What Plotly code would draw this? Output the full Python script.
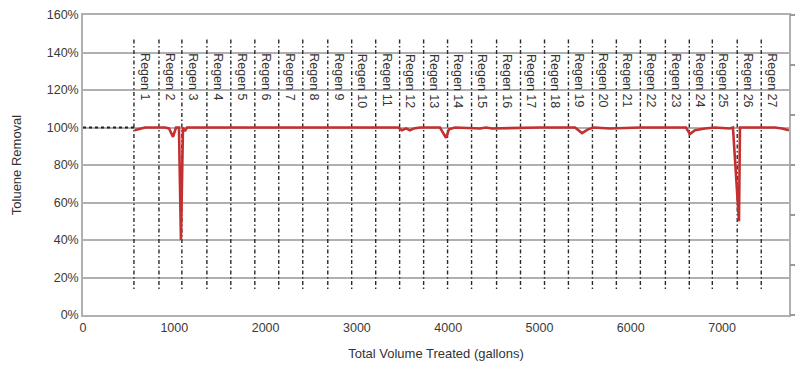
import plotly.graph_objects as go

# ---- data ----
regen_labels = [f"Regen {i}" for i in range(1, 28)]
regen_volume = [558, 832, 1083, 1357, 1619, 1882, 2144, 2407, 2681, 2943, 3206,
                3468, 3731, 3993, 4256, 4530, 4792, 5055, 5317, 5580, 5842, 6105,
                6379, 6641, 6893, 7166, 7429]

baseline_volume = [0, 565]
baseline_removal = [100, 100]

volume = [565, 679, 898, 942, 986, 1019, 1051, 1073, 1095, 1117, 1139,
          2000, 3000, 3450, 3494, 3538, 3581, 3625, 3691,
          3910, 3976, 4009, 4074, 4348, 4414, 4480, 5000,
          5389, 5466, 5531, 5597, 5772, 6101,
          6605, 6648, 6703, 6813, 6922,
          7086, 7119, 7185, 7196, 7580, 7656, 7733]
removal = [98.5, 100, 100, 99.5, 95, 100, 100, 40, 100, 98, 100,
           100, 100, 100, 98.5, 99.5, 98.5, 99.5, 100,
           100, 94.5, 99, 100, 99.5, 100, 99.5, 100,
           100, 97, 99, 100, 99.5, 100,
           100, 96.5, 98.5, 99.5, 100,
           99.5, 100, 50, 100, 100, 99.5, 98.5]

x_ticks = [0, 1000, 2000, 3000, 4000, 5000, 6000, 7000]
y_ticks = [0, 20, 40, 60, 80, 100, 120, 140, 160]
y_tick_text = [f"{v}%" for v in y_ticks]

LINE_TOP, LINE_BOTTOM, LABEL_TOP = 147, 13, 140.5

FONT = "Liberation Sans, Arial, sans-serif"
GRID = "#b0b0b0"

fig = go.Figure()

# regen dash-dot lines
lx, ly = [], []
for r in regen_volume:
    lx += [r, r, None]
    ly += [LINE_TOP, LINE_BOTTOM, None]
fig.add_trace(go.Scatter(x=lx, y=ly, mode="lines",
                         line=dict(color="#2a2a2a", width=1.4,
                                   dash="4px,2.5px,1.5px,2.5px"),
                         hoverinfo="skip", showlegend=False))

# baseline dotted
fig.add_trace(go.Scatter(x=baseline_volume, y=baseline_removal, mode="lines",
                         line=dict(color="#222222", width=2, dash="dot"),
                         showlegend=False))

# removal series
fig.add_trace(go.Scatter(x=volume, y=removal, mode="lines",
                         line=dict(color="#c4302f", width=2.6),
                         showlegend=False))

# invisible trace to keep right axis drawn
fig.add_trace(go.Scatter(x=[None], y=[None], yaxis="y2", mode="lines",
                         showlegend=False, hoverinfo="skip"))

for lab, r in zip(regen_labels, regen_volume):
    fig.add_annotation(x=r, y=LABEL_TOP, text=lab, textangle=90, showarrow=False,
                       xanchor="left", yanchor="top", xshift=2,
                       font=dict(family=FONT, size=12.5, color="#333333"))

fig.update_layout(
    width=800, height=372,
    margin=dict(l=83, r=11, t=15, b=57),
    plot_bgcolor="white", paper_bgcolor="white",
    font=dict(family=FONT, size=12.5, color="#3a3a3a"),
    xaxis=dict(range=[0, 7733], tickvals=x_ticks, showgrid=False, zeroline=False,
               showline=True, linecolor=GRID, linewidth=1.5, mirror=True,
               ticks="", tickfont=dict(size=12.5, color="#3a3a3a"), automargin=False,
               title=dict(text="Total Volume Treated (gallons)", standoff=15,
                          font=dict(size=13, color="#333333"))),
    yaxis=dict(range=[0, 160], tickvals=y_ticks, ticktext=y_tick_text,
               showgrid=True, gridcolor=GRID, gridwidth=1.5, zeroline=False,
               showline=True, linecolor=GRID, linewidth=1.5, mirror=True,
               ticks="", tickfont=dict(size=12.5, color="#3a3a3a"), automargin=False,
               title=dict(text="Toluene Removal", standoff=22,
                          font=dict(size=13, color="#333333"))),
    yaxis2=dict(overlaying="y", side="right", range=[0, 6], dtick=1,
                ticks="outside", ticklen=5, tickcolor="#999999", tickwidth=1.5,
                showticklabels=False, showgrid=False, zeroline=False,
                showline=False, automargin=False),
)

fig.write_html("out.html", config={"displayModeBar": False},
               post_script="document.body.style.margin='0';document.body.style.overflow='hidden';")
